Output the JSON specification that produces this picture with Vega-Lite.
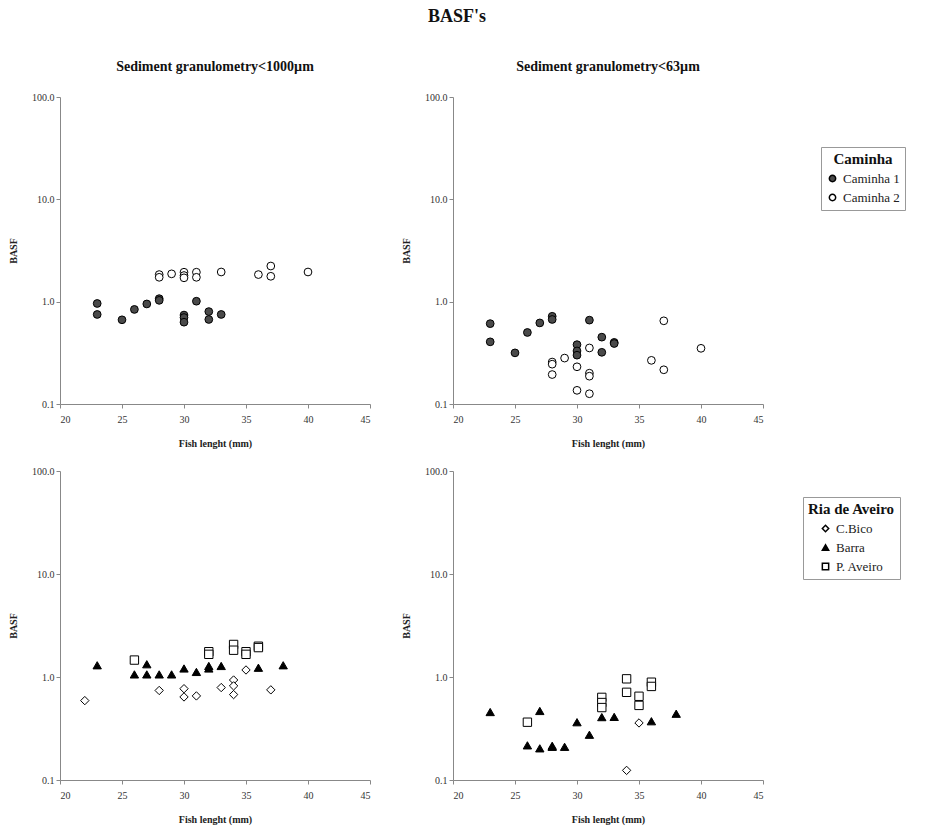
{
  "$schema": "https://vega.github.io/schema/vega-lite/v6.json",
  "padding": {"left": 8, "top": 8, "right": 4, "bottom": 4},
  "background": "white",
  "title": {"text": "BASF's", "font": "Liberation Serif", "fontSize": 18, "fontWeight": "bold", "anchor": "middle", "offset": 34, "color": "#111"},
  "config": {
    "view": {"stroke": null},
    "font": "Liberation Serif",
    "axis": {"labelFont": "Liberation Serif", "labelFontSize": 10, "labelColor": "#333", "titleFont": "Liberation Serif", "titleFontSize": 10, "titleFontWeight": "bold", "titleColor": "#222", "domainColor": "#888", "tickColor": "#888", "tickSize": 4, "grid": false},
    "axisX": {"labelPadding": 6},
    "legend": {"titleFont": "Liberation Serif", "titleFontSize": 15, "titleFontWeight": "bold", "titleColor": "#111", "labelFont": "Liberation Serif", "labelFontSize": 13, "labelColor": "#222", "strokeColor": "#999", "padding": 5, "symbolSize": 40, "rowPadding": 5},
    "title": {"font": "Liberation Serif", "fontSize": 14, "fontWeight": "bold", "color": "#111"}
  },
  "datasets": {
    "pts": [
      {"panel": "A", "series": "Caminha 1", "len": 23, "basf": 0.96},
      {"panel": "A", "series": "Caminha 1", "len": 23, "basf": 0.75},
      {"panel": "A", "series": "Caminha 1", "len": 25, "basf": 0.665},
      {"panel": "A", "series": "Caminha 1", "len": 26, "basf": 0.84},
      {"panel": "A", "series": "Caminha 1", "len": 27, "basf": 0.95},
      {"panel": "A", "series": "Caminha 1", "len": 28, "basf": 1.07},
      {"panel": "A", "series": "Caminha 1", "len": 28, "basf": 1.03},
      {"panel": "A", "series": "Caminha 1", "len": 30, "basf": 0.74},
      {"panel": "A", "series": "Caminha 1", "len": 30, "basf": 0.70},
      {"panel": "A", "series": "Caminha 1", "len": 30, "basf": 0.63},
      {"panel": "A", "series": "Caminha 1", "len": 31, "basf": 1.01},
      {"panel": "A", "series": "Caminha 1", "len": 32, "basf": 0.80},
      {"panel": "A", "series": "Caminha 1", "len": 32, "basf": 0.67},
      {"panel": "A", "series": "Caminha 1", "len": 33, "basf": 0.75},
      {"panel": "A", "series": "Caminha 2", "len": 28, "basf": 1.84},
      {"panel": "A", "series": "Caminha 2", "len": 28, "basf": 1.73},
      {"panel": "A", "series": "Caminha 2", "len": 29, "basf": 1.87},
      {"panel": "A", "series": "Caminha 2", "len": 30, "basf": 1.94},
      {"panel": "A", "series": "Caminha 2", "len": 30, "basf": 1.80},
      {"panel": "A", "series": "Caminha 2", "len": 30, "basf": 1.71},
      {"panel": "A", "series": "Caminha 2", "len": 31, "basf": 1.94},
      {"panel": "A", "series": "Caminha 2", "len": 31, "basf": 1.73},
      {"panel": "A", "series": "Caminha 2", "len": 33, "basf": 1.95},
      {"panel": "A", "series": "Caminha 2", "len": 36, "basf": 1.84},
      {"panel": "A", "series": "Caminha 2", "len": 37, "basf": 2.23},
      {"panel": "A", "series": "Caminha 2", "len": 37, "basf": 1.77},
      {"panel": "A", "series": "Caminha 2", "len": 40, "basf": 1.95},
      {"panel": "B", "series": "Caminha 1", "len": 23, "basf": 0.61},
      {"panel": "B", "series": "Caminha 1", "len": 23, "basf": 0.405},
      {"panel": "B", "series": "Caminha 1", "len": 25, "basf": 0.316},
      {"panel": "B", "series": "Caminha 1", "len": 26, "basf": 0.50},
      {"panel": "B", "series": "Caminha 1", "len": 27, "basf": 0.62},
      {"panel": "B", "series": "Caminha 1", "len": 28, "basf": 0.72},
      {"panel": "B", "series": "Caminha 1", "len": 28, "basf": 0.67},
      {"panel": "B", "series": "Caminha 1", "len": 30, "basf": 0.38},
      {"panel": "B", "series": "Caminha 1", "len": 30, "basf": 0.33},
      {"panel": "B", "series": "Caminha 1", "len": 30, "basf": 0.30},
      {"panel": "B", "series": "Caminha 1", "len": 31, "basf": 0.66},
      {"panel": "B", "series": "Caminha 1", "len": 32, "basf": 0.45},
      {"panel": "B", "series": "Caminha 1", "len": 32, "basf": 0.32},
      {"panel": "B", "series": "Caminha 1", "len": 33, "basf": 0.40},
      {"panel": "B", "series": "Caminha 1", "len": 33, "basf": 0.39},
      {"panel": "B", "series": "Caminha 2", "len": 28, "basf": 0.257},
      {"panel": "B", "series": "Caminha 2", "len": 28, "basf": 0.245},
      {"panel": "B", "series": "Caminha 2", "len": 28, "basf": 0.194},
      {"panel": "B", "series": "Caminha 2", "len": 29, "basf": 0.281},
      {"panel": "B", "series": "Caminha 2", "len": 30, "basf": 0.231},
      {"panel": "B", "series": "Caminha 2", "len": 30, "basf": 0.136},
      {"panel": "B", "series": "Caminha 2", "len": 31, "basf": 0.353},
      {"panel": "B", "series": "Caminha 2", "len": 31, "basf": 0.20},
      {"panel": "B", "series": "Caminha 2", "len": 31, "basf": 0.187},
      {"panel": "B", "series": "Caminha 2", "len": 31, "basf": 0.126},
      {"panel": "B", "series": "Caminha 2", "len": 36, "basf": 0.267},
      {"panel": "B", "series": "Caminha 2", "len": 37, "basf": 0.65},
      {"panel": "B", "series": "Caminha 2", "len": 37, "basf": 0.216},
      {"panel": "B", "series": "Caminha 2", "len": 40, "basf": 0.35},
      {"panel": "C", "series": "C.Bico", "len": 22, "basf": 0.59},
      {"panel": "C", "series": "C.Bico", "len": 28, "basf": 0.74},
      {"panel": "C", "series": "C.Bico", "len": 30, "basf": 0.77},
      {"panel": "C", "series": "C.Bico", "len": 30, "basf": 0.64},
      {"panel": "C", "series": "C.Bico", "len": 31, "basf": 0.655},
      {"panel": "C", "series": "C.Bico", "len": 33, "basf": 0.79},
      {"panel": "C", "series": "C.Bico", "len": 34, "basf": 0.935},
      {"panel": "C", "series": "C.Bico", "len": 34, "basf": 0.82},
      {"panel": "C", "series": "C.Bico", "len": 34, "basf": 0.675},
      {"panel": "C", "series": "C.Bico", "len": 35, "basf": 1.17},
      {"panel": "C", "series": "C.Bico", "len": 37, "basf": 0.75},
      {"panel": "C", "series": "Barra", "len": 23, "basf": 1.30},
      {"panel": "C", "series": "Barra", "len": 26, "basf": 1.06},
      {"panel": "C", "series": "Barra", "len": 27, "basf": 1.33},
      {"panel": "C", "series": "Barra", "len": 27, "basf": 1.06},
      {"panel": "C", "series": "Barra", "len": 28, "basf": 1.06},
      {"panel": "C", "series": "Barra", "len": 29, "basf": 1.06},
      {"panel": "C", "series": "Barra", "len": 30, "basf": 1.21},
      {"panel": "C", "series": "Barra", "len": 31, "basf": 1.12},
      {"panel": "C", "series": "Barra", "len": 32, "basf": 1.28},
      {"panel": "C", "series": "Barra", "len": 32, "basf": 1.21},
      {"panel": "C", "series": "Barra", "len": 33, "basf": 1.28},
      {"panel": "C", "series": "Barra", "len": 36, "basf": 1.23},
      {"panel": "C", "series": "Barra", "len": 38, "basf": 1.30},
      {"panel": "C", "series": "P. Aveiro", "len": 26, "basf": 1.46},
      {"panel": "C", "series": "P. Aveiro", "len": 32, "basf": 1.76},
      {"panel": "C", "series": "P. Aveiro", "len": 32, "basf": 1.66},
      {"panel": "C", "series": "P. Aveiro", "len": 34, "basf": 2.07},
      {"panel": "C", "series": "P. Aveiro", "len": 34, "basf": 1.82},
      {"panel": "C", "series": "P. Aveiro", "len": 35, "basf": 1.76},
      {"panel": "C", "series": "P. Aveiro", "len": 35, "basf": 1.66},
      {"panel": "C", "series": "P. Aveiro", "len": 36, "basf": 1.99},
      {"panel": "C", "series": "P. Aveiro", "len": 36, "basf": 1.93},
      {"panel": "D", "series": "C.Bico", "len": 34, "basf": 0.124},
      {"panel": "D", "series": "C.Bico", "len": 35, "basf": 0.358},
      {"panel": "D", "series": "Barra", "len": 23, "basf": 0.457},
      {"panel": "D", "series": "Barra", "len": 26, "basf": 0.217},
      {"panel": "D", "series": "Barra", "len": 27, "basf": 0.468},
      {"panel": "D", "series": "Barra", "len": 27, "basf": 0.203},
      {"panel": "D", "series": "Barra", "len": 28, "basf": 0.215},
      {"panel": "D", "series": "Barra", "len": 28, "basf": 0.21},
      {"panel": "D", "series": "Barra", "len": 29, "basf": 0.21},
      {"panel": "D", "series": "Barra", "len": 30, "basf": 0.364},
      {"panel": "D", "series": "Barra", "len": 31, "basf": 0.275},
      {"panel": "D", "series": "Barra", "len": 32, "basf": 0.408},
      {"panel": "D", "series": "Barra", "len": 33, "basf": 0.41},
      {"panel": "D", "series": "Barra", "len": 36, "basf": 0.372},
      {"panel": "D", "series": "Barra", "len": 38, "basf": 0.44},
      {"panel": "D", "series": "P. Aveiro", "len": 26, "basf": 0.364},
      {"panel": "D", "series": "P. Aveiro", "len": 32, "basf": 0.634},
      {"panel": "D", "series": "P. Aveiro", "len": 32, "basf": 0.565},
      {"panel": "D", "series": "P. Aveiro", "len": 32, "basf": 0.505},
      {"panel": "D", "series": "P. Aveiro", "len": 34, "basf": 0.96},
      {"panel": "D", "series": "P. Aveiro", "len": 34, "basf": 0.71},
      {"panel": "D", "series": "P. Aveiro", "len": 35, "basf": 0.65},
      {"panel": "D", "series": "P. Aveiro", "len": 35, "basf": 0.53},
      {"panel": "D", "series": "P. Aveiro", "len": 36, "basf": 0.89},
      {"panel": "D", "series": "P. Aveiro", "len": 36, "basf": 0.81}
    ]
  },
  "spacing": 18,
  "vconcat": [
    {
      "spacing": 30,
      "hconcat": [
        {
          "width": 310, "height": 307,
          "title": {"text": "Sediment granulometry<1000µm", "offset": 18},
          "data": {"name": "pts"},
          "transform": [{"filter": "datum.panel === 'A'"}],
          "mark": {"type": "point", "filled": true, "strokeWidth": 1, "size": 60, "opacity": 1},
          "encoding": {
            "x": {"field": "len", "type": "quantitative", "title": "Fish lenght (mm)", "scale": {"domain": [20, 45], "nice": false}, "axis": {"values": [20, 25, 30, 35, 40, 45], "titlePadding": 14}},
            "y": {"field": "basf", "type": "quantitative", "title": "BASF", "scale": {"type": "log", "domain": [0.1, 100], "nice": false}, "axis": {"values": [0.1, 1, 10, 100], "format": ".1f", "titlePadding": 13}},
            "stroke": {"value": "black"},
            "shape": {"field": "series", "type": "nominal", "scale": {"domain": ["Caminha 1", "Caminha 2"], "range": ["circle", "circle"]}, "legend": null},
            "fill": {"field": "series", "type": "nominal", "scale": {"domain": ["Caminha 1", "Caminha 2"], "range": ["#4a4a4a", "white"]}, "legend": null}
          }
        },
        {
          "width": 310, "height": 307,
          "title": {"text": "Sediment granulometry<63µm", "offset": 18},
          "data": {"name": "pts"},
          "transform": [{"filter": "datum.panel === 'B'"}],
          "mark": {"type": "point", "filled": true, "strokeWidth": 1, "size": 60, "opacity": 1},
          "encoding": {
            "x": {"field": "len", "type": "quantitative", "title": "Fish lenght (mm)", "scale": {"domain": [20, 45], "nice": false}, "axis": {"values": [20, 25, 30, 35, 40, 45], "titlePadding": 14}},
            "y": {"field": "basf", "type": "quantitative", "title": "BASF", "scale": {"type": "log", "domain": [0.1, 100], "nice": false}, "axis": {"values": [0.1, 1, 10, 100], "format": ".1f", "titlePadding": 13}},
            "stroke": {"value": "black"},
            "shape": {"field": "series", "type": "nominal", "scale": {"domain": ["Caminha 1", "Caminha 2"], "range": ["circle", "circle"]}, "legend": {"title": "Caminha", "orient": "none", "legendX": 368, "legendY": 50, "titleAnchor": "middle", "encode": {"symbols": {"update": {"stroke": {"value": "black"}, "strokeWidth": {"value": 1}}}}}},
            "fill": {"field": "series", "type": "nominal", "scale": {"domain": ["Caminha 1", "Caminha 2"], "range": ["#4a4a4a", "white"]}, "legend": {"title": "Caminha", "orient": "none", "legendX": 368, "legendY": 50, "titleAnchor": "middle", "encode": {"symbols": {"update": {"stroke": {"value": "black"}, "strokeWidth": {"value": 1}}}}}}
          }
        }
      ],
      "resolve": {"legend": {"shape": "independent", "fill": "independent"}}
    },
    {
      "spacing": 30,
      "hconcat": [
        {
          "width": 310, "height": 309,
          "data": {"name": "pts"},
          "transform": [{"filter": "datum.panel === 'C'"}],
          "mark": {"type": "point", "filled": true, "strokeWidth": 1, "size": 70, "opacity": 1},
          "encoding": {
            "x": {"field": "len", "type": "quantitative", "title": "Fish lenght (mm)", "scale": {"domain": [20, 45], "nice": false}, "axis": {"values": [20, 25, 30, 35, 40, 45], "titlePadding": 14}},
            "y": {"field": "basf", "type": "quantitative", "title": "BASF", "scale": {"type": "log", "domain": [0.1, 100], "nice": false}, "axis": {"values": [0.1, 1, 10, 100], "format": ".1f", "titlePadding": 13}},
            "stroke": {"value": "black"},
            "shape": {"field": "series", "type": "nominal", "scale": {"domain": ["C.Bico", "Barra", "P. Aveiro"], "range": ["diamond", "triangle-up", "square"]}, "legend": null},
            "fill": {"field": "series", "type": "nominal", "scale": {"domain": ["C.Bico", "Barra", "P. Aveiro"], "range": ["white", "black", "white"]}, "legend": null}
          }
        },
        {
          "width": 310, "height": 309,
          "data": {"name": "pts"},
          "transform": [{"filter": "datum.panel === 'D'"}],
          "mark": {"type": "point", "filled": true, "strokeWidth": 1, "size": 70, "opacity": 1},
          "encoding": {
            "x": {"field": "len", "type": "quantitative", "title": "Fish lenght (mm)", "scale": {"domain": [20, 45], "nice": false}, "axis": {"values": [20, 25, 30, 35, 40, 45], "titlePadding": 14}},
            "y": {"field": "basf", "type": "quantitative", "title": "BASF", "scale": {"type": "log", "domain": [0.1, 100], "nice": false}, "axis": {"values": [0.1, 1, 10, 100], "format": ".1f", "titlePadding": 13}},
            "stroke": {"value": "black"},
            "shape": {"field": "series", "type": "nominal", "scale": {"domain": ["C.Bico", "Barra", "P. Aveiro"], "range": ["diamond", "triangle-up", "square"]}, "legend": {"title": "Ria de Aveiro", "orient": "none", "legendX": 350, "legendY": 26, "titleAnchor": "middle", "encode": {"symbols": {"update": {"stroke": {"value": "black"}, "strokeWidth": {"value": 1}}}}}},
            "fill": {"field": "series", "type": "nominal", "scale": {"domain": ["C.Bico", "Barra", "P. Aveiro"], "range": ["white", "black", "white"]}, "legend": {"title": "Ria de Aveiro", "orient": "none", "legendX": 350, "legendY": 26, "titleAnchor": "middle", "encode": {"symbols": {"update": {"stroke": {"value": "black"}, "strokeWidth": {"value": 1}}}}}}
          }
        }
      ],
      "resolve": {"legend": {"shape": "independent", "fill": "independent"}}
    }
  ],
  "resolve": {"scale": {"shape": "independent", "fill": "independent"}}
}
